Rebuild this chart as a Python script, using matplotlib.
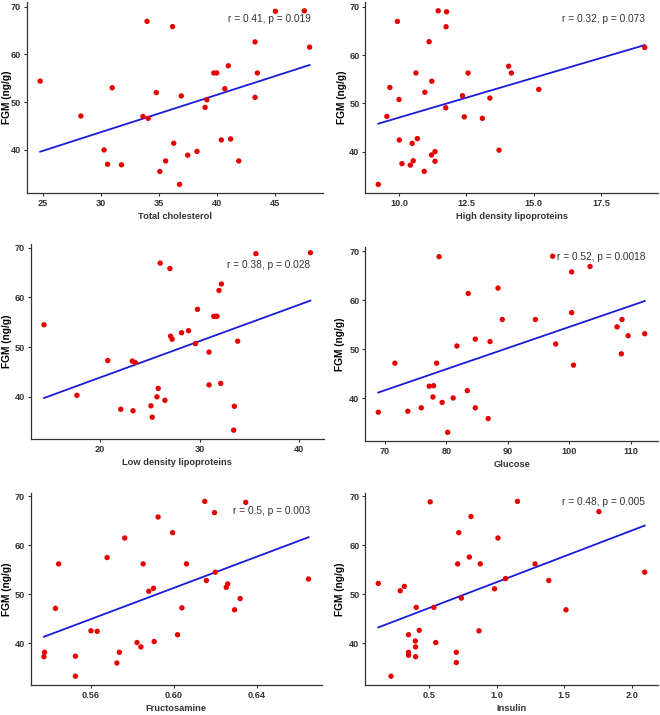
import numpy as np
import matplotlib
matplotlib.use("Agg")
import matplotlib.pyplot as plt

plt.rcParams['font.family'] = ['Liberation Sans', 'DejaVu Sans']

# ---- data ----
tc_x = [24.8, 28.3, 30.3, 30.6, 31.0, 31.8, 33.65, 34.1, 34.0, 34.8, 35.1, 35.6, 36.2, 36.3,
        36.8, 36.95, 37.5, 38.3, 39.0, 39.15, 39.75, 40.0, 40.4, 40.7, 41.0, 41.2, 41.9,
        43.3, 43.3, 43.5, 45.06, 47.55, 48.0]
tc_y = [54.4, 47.1, 40.0, 37.0, 53.0, 36.9, 47.0, 46.6, 66.9, 52.0, 35.5, 37.7, 65.8, 41.4,
        32.8, 51.3, 38.9, 39.7, 48.9, 50.5, 56.1, 56.1, 42.1, 52.8, 57.6, 42.3, 37.7,
        51.0, 62.6, 56.1, 69.0, 69.1, 61.5]

hdl_x = [9.22, 9.54, 9.65, 9.93, 9.99, 10.0, 10.1, 10.41, 10.48, 10.52, 10.62, 10.67, 10.93,
         10.95, 11.11, 11.2, 11.21, 11.33, 11.33, 11.45, 11.74, 11.76, 11.73, 12.35, 12.42,
         12.56, 13.09, 13.37, 13.71, 14.07, 14.17, 15.19, 19.13]
hdl_y = [33.2, 47.3, 53.3, 67.0, 50.8, 42.4, 37.5, 37.2, 41.7, 38.1, 56.3, 42.7, 35.9,
         52.3, 62.8, 39.3, 54.6, 40.0, 38.0, 69.2, 65.9, 69.0, 49.1, 51.6, 47.2,
         56.3, 46.9, 51.1, 40.3, 57.7, 56.3, 52.9, 61.6]

ldl_x = [14.37, 17.67, 20.77, 22.07, 23.23, 23.3, 23.53, 25.1, 25.23, 25.7, 25.83, 26.03,
         26.5, 27.0, 27.07, 27.23, 28.17, 28.87, 29.57, 29.77, 30.93, 30.93, 31.4, 31.55,
         31.73, 31.93, 32.1, 32.17, 33.47, 33.4, 33.8, 35.63, 41.1]
ldl_y = [54.5, 40.3, 47.3, 37.5, 47.2, 37.2, 46.9, 38.2, 35.9, 40.0, 41.7, 66.9,
         39.3, 65.8, 52.2, 51.6, 52.9, 53.3, 50.7, 57.6, 49.0, 42.4, 56.2, 56.2,
         56.2, 61.4, 42.7, 62.7, 38.1, 33.3, 51.2, 68.8, 69.0]

glu_x = [68.9, 71.6, 73.7, 75.9, 77.2, 77.9, 77.8, 78.4, 78.8, 79.3, 80.2, 81.1, 81.7, 83.4,
         83.55, 84.7, 84.7, 86.8, 87.1, 88.4, 89.1, 94.5, 97.3, 97.8, 100.4, 100.4, 100.7,
         103.4, 107.8, 108.6, 108.5, 109.6, 112.3]
glu_y = [37.2, 47.2, 37.4, 38.1, 42.5, 42.6, 40.3, 47.2, 68.9, 39.2, 33.1, 40.1, 50.7, 41.6,
         61.4, 52.1, 38.1, 35.9, 51.6, 62.5, 56.1, 56.1, 69.0, 51.1, 65.8, 57.5, 46.8,
         66.9, 54.6, 56.1, 49.1, 52.8, 53.2]

fru_x = [0.5373, 0.5376, 0.5429, 0.5444, 0.5525, 0.5525, 0.5600, 0.5630, 0.5678, 0.5725,
         0.5737, 0.5763, 0.5822, 0.5841, 0.5852, 0.5879, 0.5902, 0.5905, 0.5924, 0.5994,
         0.6018, 0.6039, 0.6061, 0.6149, 0.6157, 0.6196, 0.6200, 0.6253, 0.6260, 0.6293,
         0.6320, 0.6347, 0.6650]
fru_y = [37.2, 38.1, 47.1, 56.2, 37.3, 33.2, 42.5, 42.4, 57.5, 35.9,
         38.1, 61.5, 40.1, 39.2, 56.2, 50.6, 51.2, 40.3, 65.8, 62.6,
         41.7, 47.2, 56.2, 69.0, 52.8, 66.7, 54.5, 51.4, 52.1, 46.8,
         49.1, 68.8, 53.1]

ins_x = [0.127, 0.221, 0.289, 0.319, 0.350, 0.350, 0.350, 0.400, 0.402, 0.402, 0.407, 0.429,
         0.510, 0.537, 0.551, 0.703, 0.703, 0.713, 0.721, 0.740, 0.799, 0.811, 0.870, 0.880,
         0.985, 1.010, 1.066, 1.154, 1.284, 1.385, 1.512, 1.755, 2.093]
ins_y = [52.2, 33.2, 50.7, 51.6, 41.7, 38.1, 37.5, 40.4, 39.2, 37.2, 47.3, 42.6,
         68.9, 47.3, 40.1, 38.1, 36.0, 56.2, 62.6, 49.2, 57.6, 65.9, 42.5, 56.2,
         51.1, 61.5, 53.2, 69.0, 56.2, 52.8, 46.8, 66.9, 54.5]

x_titles = ["Total cholesterol", "High density lipoproteins", "Low density lipoproteins",
            "Glucose", "Fructosamine", "Insulin"]
stat_labels = ["r = 0.41, p = 0.019", "r = 0.32, p = 0.073", "r = 0.38, p = 0.028",
               "r = 0.52, p = 0.0018", "r = 0.5, p = 0.003", "r = 0.48, p = 0.005"]
x_ticks = [[25, 30, 35, 40, 45], [10.0, 12.5, 15.0, 17.5], [20, 30, 40],
           [70, 80, 90, 100, 110], [0.56, 0.60, 0.64], [0.5, 1.0, 1.5, 2.0]]
x_ticklabels = [["25", "30", "35", "40", "45"], ["10.0", "12.5", "15.0", "17.5"],
                ["20", "30", "40"], ["70", "80", "90", "100", "110"],
                ["0.56", "0.60", "0.64"], ["0.5", "1.0", "1.5", "2.0"]]
y_ticks = [40, 50, 60, 70]
y_title = "FGM (ng/g)"

xs = [tc_x, hdl_x, ldl_x, glu_x, fru_x, ins_x]
ys = [tc_y, hdl_y, ldl_y, glu_y, fru_y, ins_y]

# ---- layout ----
positions = [
    [0.0405, 0.730, 0.449, 0.267],
    [0.553, 0.730, 0.444, 0.267],
    [0.0465, 0.386, 0.444, 0.273],
    [0.553, 0.383, 0.444, 0.271],
    [0.0465, 0.042, 0.441, 0.269],
    [0.553, 0.042, 0.444, 0.269],
]
label_pos = [(0.96, 0.91), (0.956, 0.91), (0.955, 0.89), (0.956, 0.95), (0.96, 0.907), (0.956, 0.95)]
ylabel_x = [-0.068, -0.0795, -0.082, -0.085, -0.083, -0.085]

fig = plt.figure(figsize=(6.6, 7.15), dpi=100)
for i in range(6):
    ax = fig.add_axes(positions[i])
    x = np.array(xs[i]); y = np.array(ys[i])
    ax.scatter(x, y, s=15, color='#e60000', edgecolors='none', zorder=3)
    k, b = np.polyfit(x, y, 1)
    xl = np.array([x.min(), x.max()])
    ax.plot(xl, k * xl + b, color='#1a1adb', lw=1.3, zorder=2)
    ax.margins(0.05)
    ax.set_xticks(x_ticks[i])
    ax.set_xticklabels(x_ticklabels[i])
    ax.set_yticks(y_ticks)
    for s in ['top', 'right']:
        ax.spines[s].set_visible(False)
    for s in ['left', 'bottom']:
        ax.spines[s].set_color('#333333')
        ax.spines[s].set_linewidth(0.9)
    ax.tick_params(length=2.5, width=0.8, color='#333333', pad=1.5)
    for lab in ax.get_xticklabels() + ax.get_yticklabels():
        lab.set_fontsize(6.6)
        lab.set_fontweight('bold')
        lab.set_color('#333333')
    ax.set_xlabel(x_titles[i], fontsize=6.7, fontweight='bold', color='#333333', labelpad=3)
    ax.set_ylabel(y_title, fontsize=7.3, fontweight='bold', color='black', va='center')
    ax.yaxis.set_label_coords(ylabel_x[i], 0.5)
    ax.text(label_pos[i][0], label_pos[i][1], stat_labels[i], transform=ax.transAxes,
            ha='right', va='center', fontsize=7.3, color='#333333')

fig.savefig("out.png", dpi=100)
